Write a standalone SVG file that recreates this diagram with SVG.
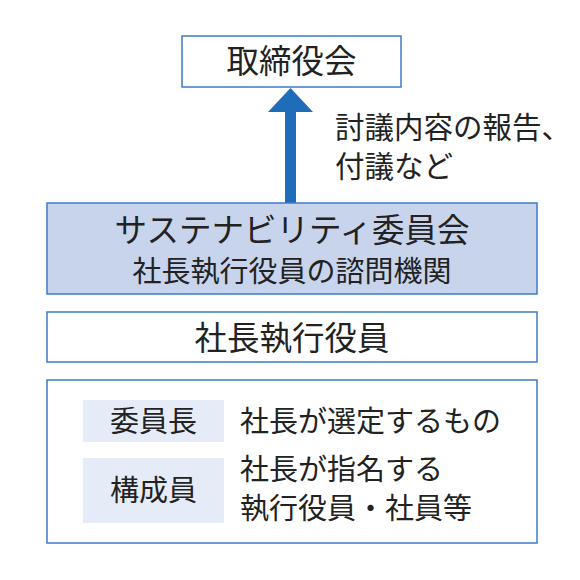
<svg xmlns="http://www.w3.org/2000/svg" width="580" height="580" viewBox="0 0 580 580">
<style>
.box{fill:#ffffff;stroke:#3d7cc6;stroke-width:1.5}
.hl{fill:#c7d4ec;stroke:#3d7cc6;stroke-width:1.5}
.lab{fill:#e6ecf7}
text{font-family:"Noto Sans CJK JP","Noto Sans CJK SC",sans-serif;fill:#222222}
.t32{font-size:32.5px}
.t28{font-size:29px}
.t29{font-size:29.5px}
.arrow{fill:#1f6cb8}
</style>
<rect width="580" height="580" fill="#ffffff"/>
<g id="connectors">
<rect class="arrow" x="285" y="110" width="11" height="94"/>
<polygon class="arrow" points="290.5,88 313,112 268,112"/>
</g>
<g id="board">
<rect class="box" x="182" y="36" width="219" height="51"/>
<text class="t32" x="291.5" y="73" text-anchor="middle">取締役会</text>
</g>
<g id="edge-label">
<text class="t29" x="335" y="138">討議内容の報告、</text>
<text class="t29" x="335" y="177">付議など</text>
</g>
<g id="committee">
<rect class="hl" x="47" y="203" width="490" height="91"/>
<text class="t32" x="292" y="242" text-anchor="middle">サステナビリティ委員会</text>
<text class="t28" x="292" y="282" text-anchor="middle">社長執行役員の諮問機関</text>
</g>
<g id="president">
<rect class="box" x="47" y="312" width="490" height="50"/>
<text class="t32" x="292" y="350" text-anchor="middle">社長執行役員</text>
</g>
<g id="members">
<rect class="box" x="47" y="380" width="490" height="163"/>
<rect class="lab" x="83" y="400" width="141" height="42"/>
<text class="t28" x="153.5" y="432" text-anchor="middle">委員長</text>
<text class="t28" x="240" y="432">社長が選定するもの</text>
<rect class="lab" x="83" y="458" width="141" height="65"/>
<text class="t28" x="153.5" y="501" text-anchor="middle">構成員</text>
<text class="t28" x="240" y="479.5">社長が指名する</text>
<text class="t28" x="240" y="518.5">執行役員・社員等</text>
</g>
</svg>
